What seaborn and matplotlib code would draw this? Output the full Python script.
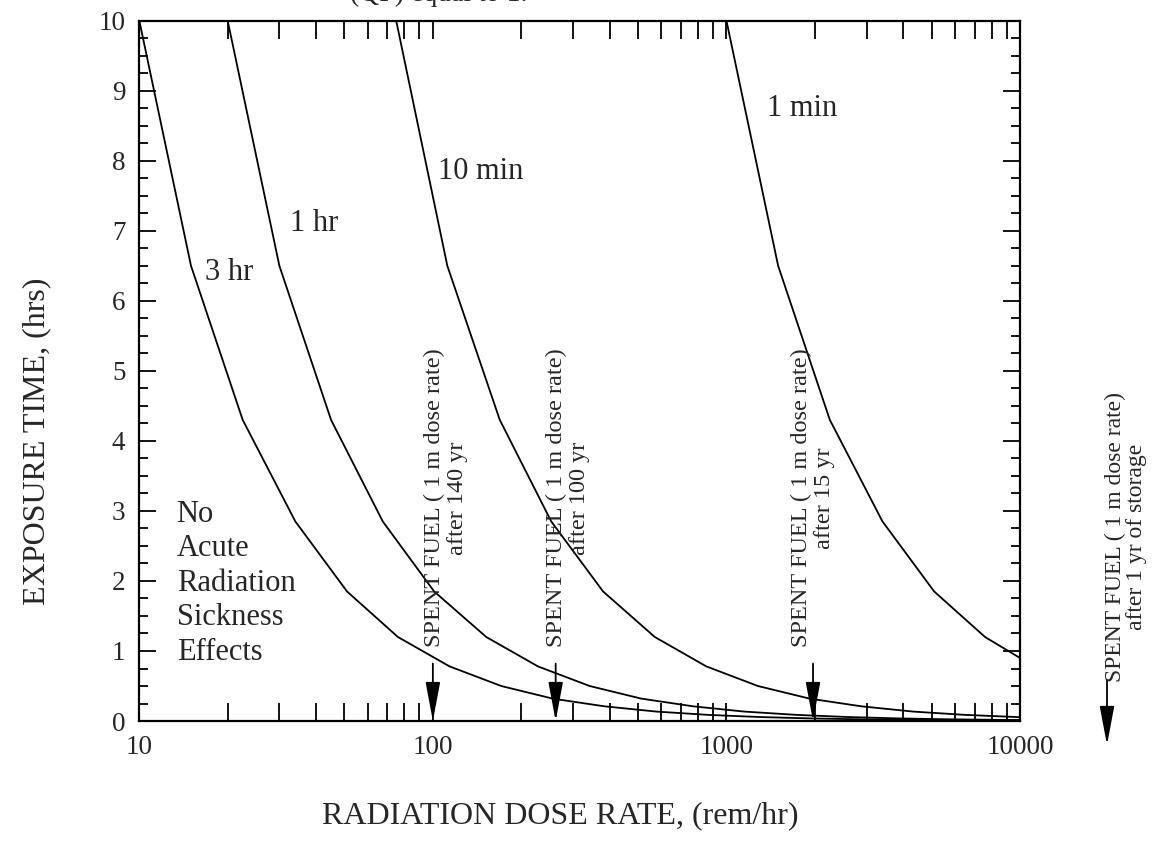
import matplotlib.pyplot as plt
import matplotlib.ticker as mticker
import numpy as np
import pandas as pd
import seaborn as sns

# Valeurs : debit de dose (rem/hr) et temps d'exposition (hrs)
dose_3hr = [10, 15, 22.5, 34, 51, 76, 114, 171, 256, 384, 577, 865, 1300,
            1950, 2920, 4380, 6570, 10000]
time_3hr = [10, 6.5, 4.3, 2.85, 1.85, 1.2, 0.78, 0.5, 0.32, 0.21, 0.135,
            0.088, 0.057, 0.037, 0.024, 0.016, 0.01, 0.007]

dose_1hr = [20, 30, 45, 67.5, 101, 152, 228, 342, 513, 770, 1150, 1730,
            2600, 3890, 5840, 8760, 10000]
time_1hr = [10, 6.5, 4.3, 2.85, 1.85, 1.2, 0.78, 0.5, 0.32, 0.21, 0.135,
            0.088, 0.057, 0.037, 0.024, 0.016, 0.014]

dose_10min = [75, 112, 169, 253, 380, 570, 854, 1280, 1920, 2880, 4320,
              6490, 10000]
time_10min = [10, 6.5, 4.3, 2.85, 1.85, 1.2, 0.78, 0.5, 0.32, 0.21, 0.135,
              0.088, 0.055]

dose_1min = [1000, 1500, 2250, 3400, 5100, 7600, 10000]
time_1min = [10, 6.5, 4.3, 2.85, 1.85, 1.2, 0.9]

curve_names = ['3 hr', '1 hr', '10 min', '1 min']
# position des etiquettes des courbes (dose, temps)
label_dose = [16.8, 32.6, 104, 1374]
label_time = [6.4, 7.1, 7.85, 8.75]

# fleches "spent fuel" : debit de dose et texte
fuel_dose = [100, 262, 1972]
fuel_text_dose = [111, 289, 1975]
fuel_years = ['140', '100', '15']

# Construction du tableau pour seaborn
frames = []
for name, d, t in zip(curve_names,
                      [dose_3hr, dose_1hr, dose_10min, dose_1min],
                      [time_3hr, time_1hr, time_10min, time_1min]):
    frames.append(pd.DataFrame({'dose': d, 'time': t, 'curve': name}))
df = pd.concat(frames, ignore_index=True)

sns.set_style('ticks')
plt.rcParams['font.family'] = ['Liberation Serif', 'DejaVu Serif']

fig = plt.figure(figsize=(11.57, 8.44), dpi=100)
ax = fig.add_axes([0.1204, 0.1457, 0.7612, 0.8298])

sns.lineplot(data=df, x='dose', y='time', units='curve', estimator=None,
             sort=False, color='black', linewidth=1.3, ax=ax)

ax.set_xscale('log')
ax.set_xlim(10, 10000)
ax.set_ylim(0, 10)

ax.set_xticks([10, 100, 1000, 10000])
ax.set_xticklabels(['10', '100', '1000', '10000'])
ax.xaxis.set_minor_locator(mticker.LogLocator(base=10, subs=np.arange(2, 10)))
ax.xaxis.set_minor_formatter(mticker.NullFormatter())
ax.set_yticks(range(0, 11))
ax.yaxis.set_minor_locator(mticker.MultipleLocator(0.25))

ax.tick_params(which='both', direction='in', top=True, right=True,
               width=1.3, labelsize=19.5, color='black')
ax.tick_params(axis='x', which='both', length=13, pad=10)
ax.tick_params(axis='y', which='major', length=12, pad=10)
ax.tick_params(axis='y', which='minor', length=6.5)
for sp in ax.spines.values():
    sp.set_linewidth(1.6)
    sp.set_color('black')

ax.set_xlabel('RADIATION DOSE RATE, (rem/hr)', fontsize=23)
ax.set_ylabel('EXPOSURE TIME, (hrs)', fontsize=23)
ax.xaxis.set_label_coords(0.478, -0.115)
ax.yaxis.set_label_coords(-0.1, 0.4)

# etiquettes des courbes
for name, x, y in zip(curve_names, label_dose, label_time):
    ax.text(x, y, name, fontsize=22, ha='left', va='center')

ax.text(13.4, 1.97, 'No\nAcute\nRadiation\nSickness\nEffects', fontsize=22,
        ha='left', va='center', linespacing=1.25)

# fleches et textes "spent fuel"
for xd, xt, yr in zip(fuel_dose, fuel_text_dose, fuel_years):
    ax.annotate('', xy=(xd, 0), xytext=(xd, 0.82),
                arrowprops=dict(arrowstyle='-|>,head_length=1.6,head_width=0.3',
                                color='black', lw=1.3, mutation_scale=15,
                                shrinkA=0, shrinkB=0))
    ax.text(xt, 1.05, 'SPENT FUEL ( 1 m dose rate)\nafter ' + yr + ' yr',
            rotation=90, fontsize=17.5, ha='center', va='bottom',
            multialignment='center', linespacing=1.1)

# annotation a droite, hors du cadre
ax.annotate('', xy=(1107 / 1157, 1 - 745 / 844),
            xytext=(1107 / 1157, 1 - 680 / 844),
            xycoords='figure fraction', textcoords='figure fraction',
            arrowprops=dict(arrowstyle='-|>,head_length=1.6,head_width=0.3',
                            color='black', lw=1.3, mutation_scale=15,
                            shrinkA=0, shrinkB=0),
            annotation_clip=False)
fig.text(1126 / 1157, 1 - 682 / 844,
         'SPENT FUEL ( 1 m dose rate)\nafter 1 yr of storage',
         rotation=90, fontsize=17, ha='center', va='bottom',
         multialignment='center', linespacing=1.0)

# ligne de titre coupee en haut de l'image
fig.text(350 / 1157, 1 - 1 / 844, '(QF) equal to 1.', fontsize=20,
         ha='left', va='baseline')

fig.savefig('out.png', dpi=100)
